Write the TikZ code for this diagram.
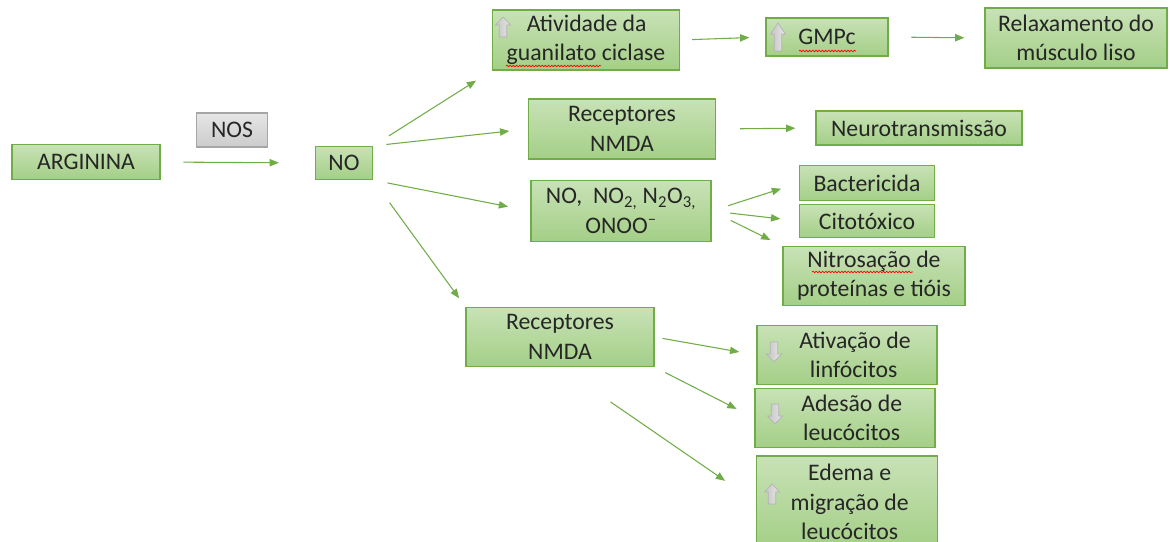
\documentclass[tikz,border=0pt]{standalone}
\usepackage{xcolor}
\usepackage{fontspec}
\setmainfont{Carlito}
\usepackage{tikz}
\usetikzlibrary{arrows.meta,decorations.pathmorphing}

\definecolor{verde}{RGB}{112,173,71}
\definecolor{verdeclaro}{RGB}{200,226,182}
\definecolor{verdemedio}{RGB}{164,207,135}

\tikzset{
  caixa/.style={draw=verde, line width=0.9pt, top color=verdeclaro, bottom color=verdemedio,
    align=center, inner sep=1pt, font=\fontsize{17.8}{22}\selectfont, text=black!85},
  cinza/.style={caixa, draw=gray!70, top color=gray!20, bottom color=gray!40},
  seta/.style={draw=verde, line width=0.8pt, -{Triangle[length=7pt,width=5.5pt]}},
  realce/.style={red, line width=0.5pt, decorate,
    decoration={snake, amplitude=0.6pt, segment length=2.4pt}},
  sobe/.pic={\draw[gray!60, line width=0.5pt, left color=gray!45, right color=gray!20]
    (0,-10) -- (7.5,-2) -- (3.8,-2) -- (3.8,10) -- (-3.8,10) -- (-3.8,-2) -- (-7.5,-2) -- cycle;},
  desce/.pic={\draw[gray!60, line width=0.5pt, left color=gray!45, right color=gray!20]
    (0,10) -- (7.5,2) -- (3.8,2) -- (3.8,-10) -- (-3.8,-10) -- (-3.8,2) -- (-7.5,2) -- cycle;}
}

\begin{document}
\begin{tikzpicture}[x=0.75pt, y=-0.75pt]

\useasboundingbox (0,0) rectangle (1170,542);

% Caixas
\node[caixa, minimum width=111pt, minimum height=26.25pt] (arginina) at (86,162) {ARGININA};
\node[cinza, minimum width=53.25pt, minimum height=25.5pt] (nos) at (232,130) {NOS};
\node[caixa, minimum width=42.75pt, minimum height=24.75pt] (no) at (344,163) {NO};

\node[caixa, minimum width=140.25pt, minimum height=45pt] (atividade) at (586,40)
{\hspace*{1pt}Atividade da\\guanilato ciclase};
\node[caixa, minimum width=91.5pt, minimum height=28.5pt] (gmpc) at (827,37) {GMPc};
\node[caixa, minimum width=136.5pt, minimum height=45pt] (relax) at (1076,38)
{Relaxamento do\\músculo liso};

\node[caixa, minimum width=140.25pt, minimum height=45pt] (nmdaA) at (622,129)
{Receptores\\NMDA};
\node[caixa, minimum width=154.5pt, minimum height=25.5pt] (neuro) at (919,128)
{Neurotransmissão};

\node[caixa, minimum width=135pt, minimum height=45.75pt] (especies) at (621,211)
{NO,\ \ NO\textsubscript{2,} N\textsubscript{2}O\textsubscript{3,}\\ONOO\textsuperscript{\textendash}};
\node[caixa, minimum width=101.25pt, minimum height=26.25pt] (bacter) at (867,183) {Bactericida};
\node[caixa, minimum width=101.25pt, minimum height=24.75pt] (citot) at (867,221) {Citotóxico};
\node[caixa, minimum width=136.5pt, minimum height=44.25pt] (nitros) at (874,276)
{Nitrosação de\\proteínas e tióis};

\node[caixa, minimum width=141pt, minimum height=44.25pt] (nmdaB) at (560,337)
{Receptores\\NMDA};
\node[caixa, minimum width=135pt, minimum height=44.25pt] (linfo) at (847,355)
{\hspace*{12pt}Ativação de\\\hspace*{10pt}linfócitos};
\node[caixa, minimum width=135pt, minimum height=44.25pt] (adesao) at (845,418)
{\hspace*{10pt}Adesão de\\\hspace*{10pt}leucócitos};
\node[caixa, minimum width=135.75pt, minimum height=69pt] (edema) at (847,502)
{\hspace*{4pt}Edema e\\\hspace*{4pt}migração de\\\hspace*{4pt}leucócitos};

% Setas de aumento e diminuicao
\pic at (503,27) {sobe};
\pic[yscale=1.4] at (778,37) {sobe};
\pic at (774,352) {desce};
\pic at (775,414) {desce};
\pic at (772,494) {sobe};

% Sublinhados do corretor
\draw[realce] (506,66) -- (601,66);
\draw[realce] (799,51) -- (856,51);
\draw[realce] (812,272) -- (913,272);

% Conexoes
\draw[seta, shorten <=17pt, shorten >=27pt] (arginina.east) -- (no.west);
\draw[seta, shorten <=14pt, shorten >=14pt] (no.north east) -- (atividade.south west);
\draw[seta, shorten <=10pt, shorten >=14pt] (no.north east) -- (nmdaA.west);
\draw[seta, shorten <=11pt, shorten >=17pt] (no.south east) -- (especies.west);
\draw[seta, shorten <=21pt, shorten >=8pt] (no.south east) -- (nmdaB.north west);

\draw[seta, shorten <=9pt, shorten >=12pt] (atividade.east) -- (gmpc.west);
\draw[seta, shorten <=17pt, shorten >=15pt] (gmpc.east) -- (relax.west);
\draw[seta, shorten <=18pt, shorten >=15pt] (nmdaA.east) -- (neuro.west);

\draw[seta, shorten <=13pt, shorten >=14pt] (especies.east) -- (bacter.west);
\draw[seta, shorten <=14pt, shorten >=14pt] (especies.east) -- (citot.west);
\draw[seta, shorten <=16pt, shorten >=10pt] (especies.east) -- (nitros.north west);

\draw[seta, shorten <=6pt, shorten >=13pt] (nmdaB.east) -- (linfo.west);
\draw[seta, shorten <=9pt, shorten >=15pt] (nmdaB.south east) -- (adesao.west);
\draw[seta, shorten <=46pt, shorten >=28pt] (nmdaB.south) -- (edema.west);

\end{tikzpicture}
\end{document}
